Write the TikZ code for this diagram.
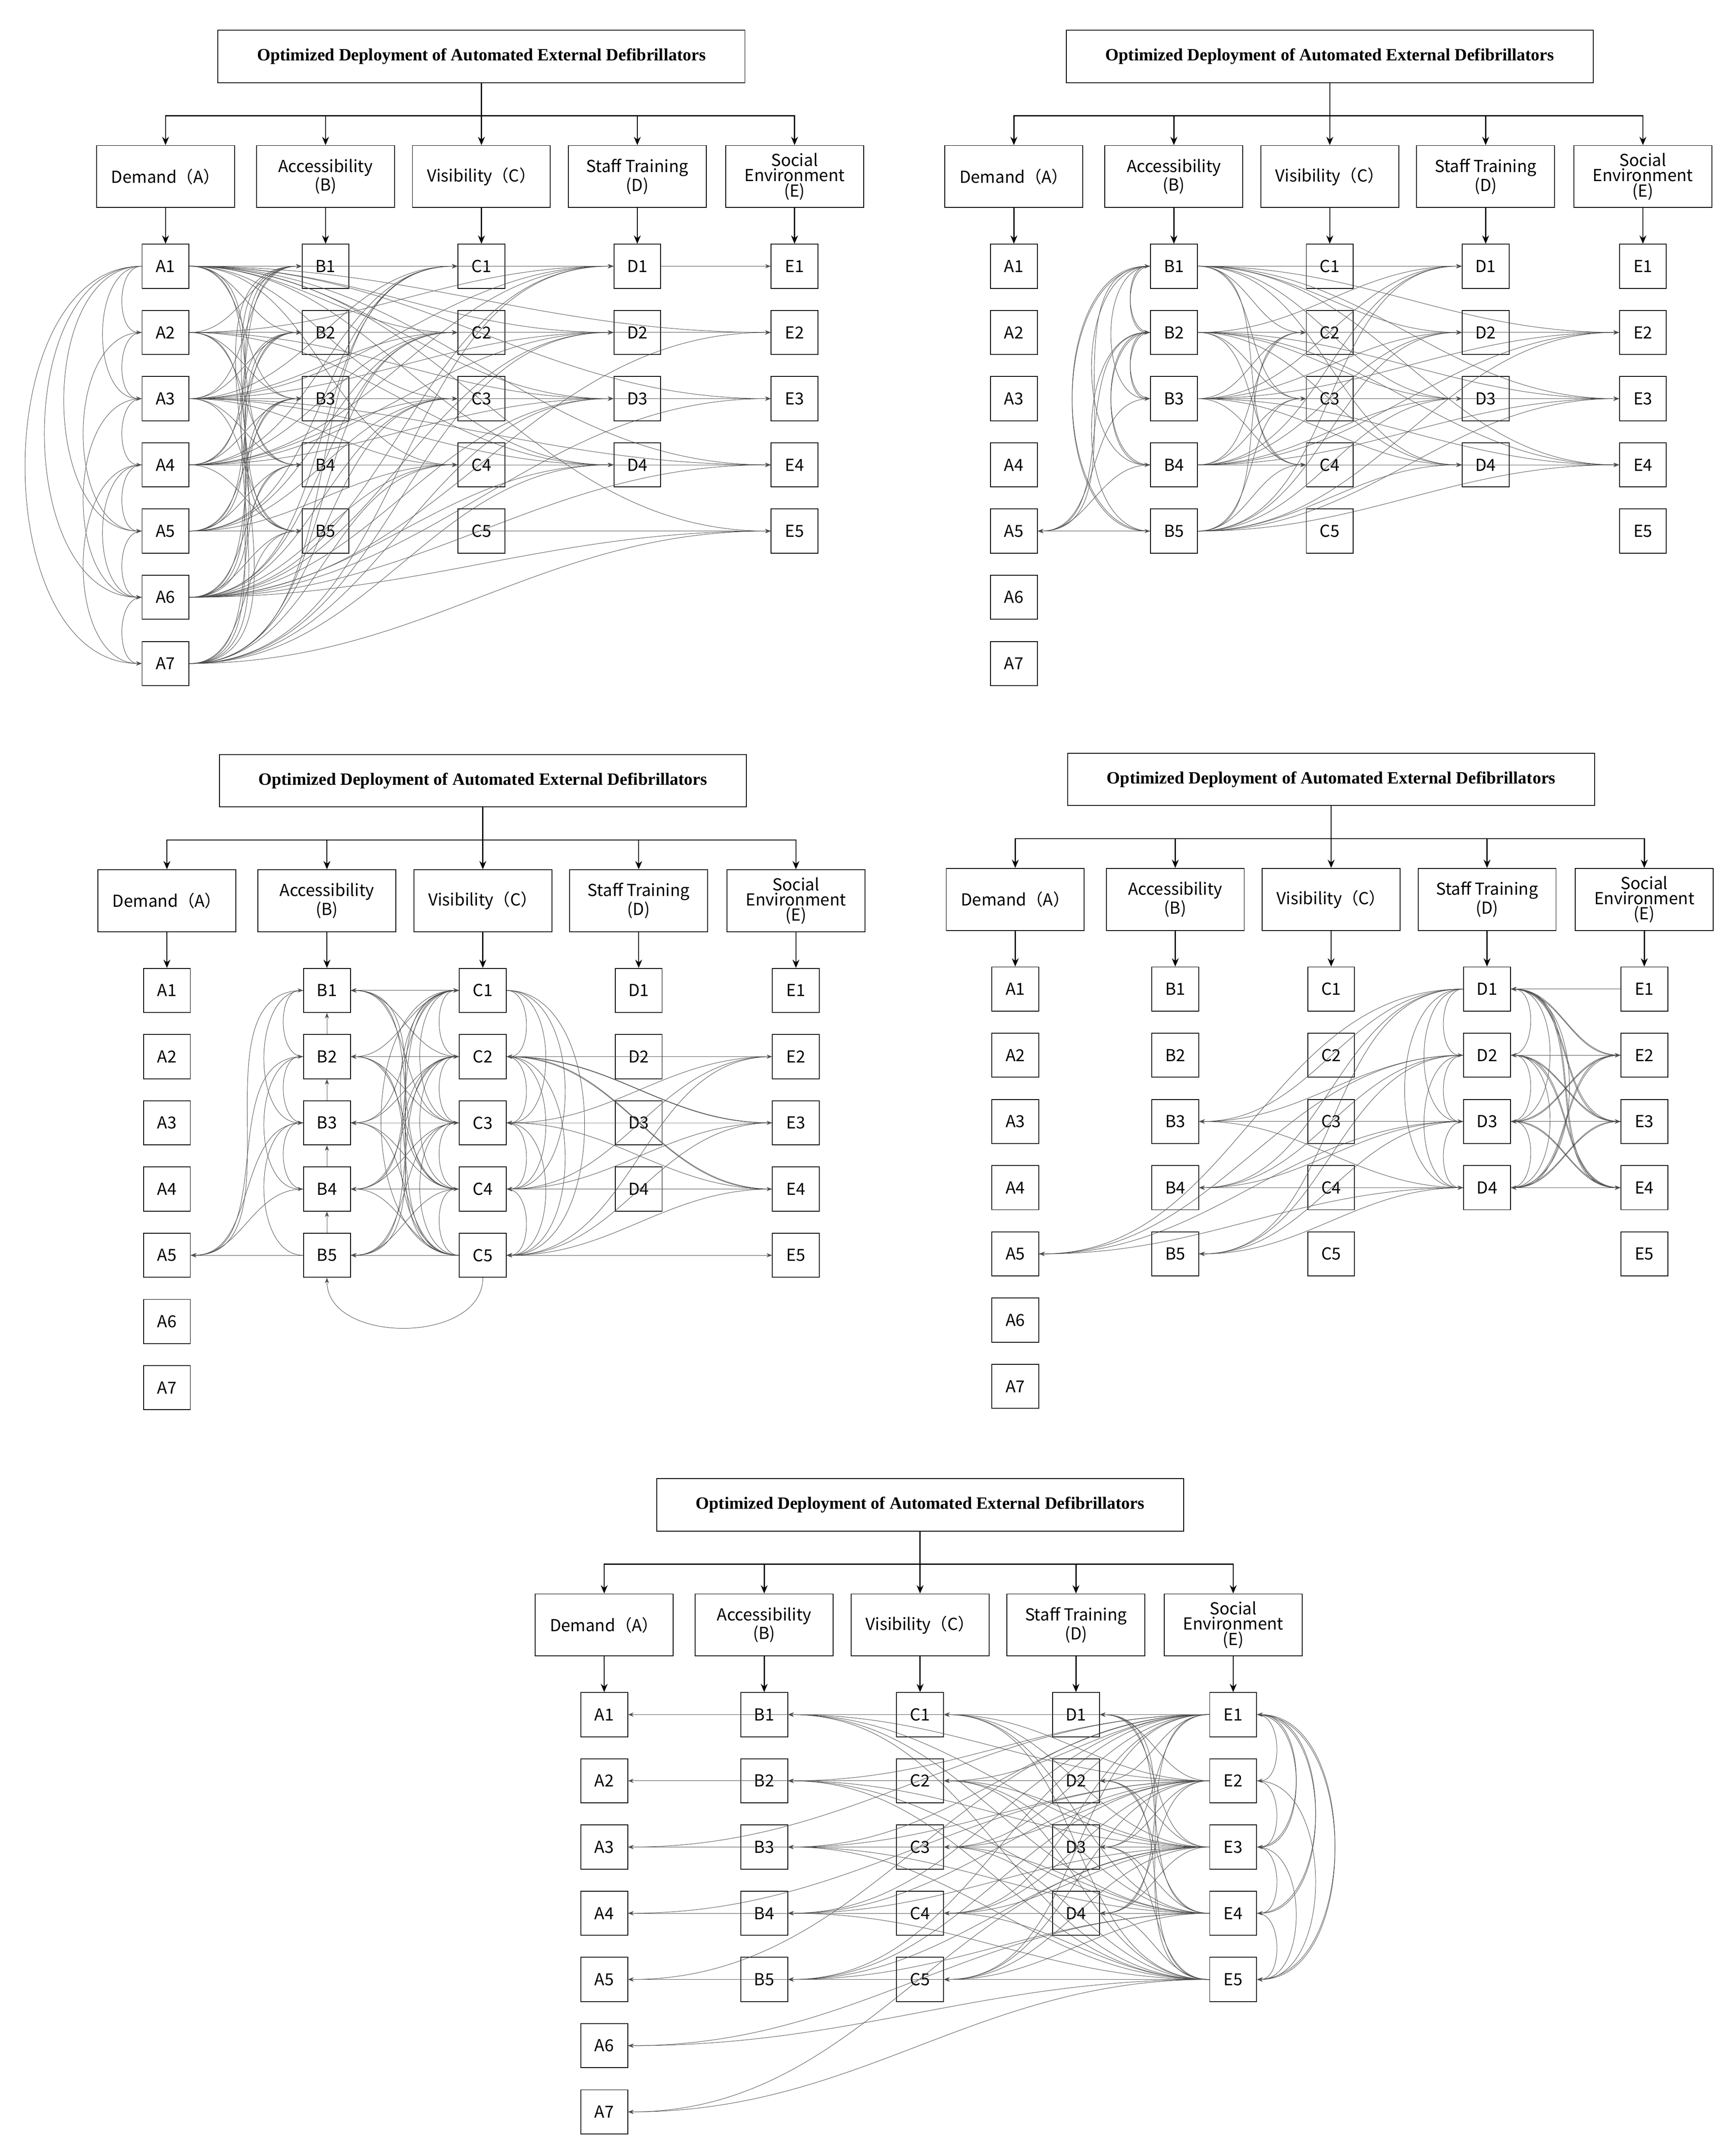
\documentclass[tikz,border=0pt]{standalone}
\usepackage{fontspec}
\setmainfont{Liberation Serif}
\newfontfamily\cjk{Noto Sans CJK SC}
\usetikzlibrary{arrows.meta}
\tikzset{
 box/.style={draw,line width=0.6pt,inner sep=1pt},
 ttl/.style={box,minimum width=382pt,minimum height=38pt,font=\bfseries\fontsize{12.5}{14}\selectfont},
 cat/.style={box,minimum width=100pt,minimum height=45pt,align=center,font=\cjk\fontsize{12}{11}\selectfont},
 leaf/.style={box,minimum width=34pt,minimum height=32pt,font=\cjk\fontsize{12}{12}\selectfont},
 tr/.style={line width=0.8pt,-{Stealth[length=6pt,width=5pt]}},
 ed/.style={draw=black!70,line width=0.3pt,-{Stealth[length=4pt,width=3pt]}},
}
\newcommand\panel[3]{%
\begin{scope}[shift={(#2,#3)}]
\node[ttl] (#1T) at (349,41) {Optimized Deployment of Automated External Defibrillators};
\node[cat] (#1a) at (120,128) {Demand（A）};
\node[cat] (#1b) at (236,128) {Accessibility\\(B)};
\node[cat] (#1c) at (349,128) {Visibility（C）};
\node[cat] (#1d) at (462,128) {Staff Training\\(D)};
\node[cat] (#1e) at (576,128) {Social\\Environment\\(E)};
\foreach \k in {1,...,7} \node[leaf] (#1A\k) at (120,193+48*\k-48) {A\k};
\foreach \k in {1,...,5} \node[leaf] (#1B\k) at (236,193+48*\k-48) {B\k};
\foreach \k in {1,...,5} \node[leaf] (#1C\k) at (349,193+48*\k-48) {C\k};
\foreach \k in {1,...,4} \node[leaf] (#1D\k) at (462,193+48*\k-48) {D\k};
\foreach \k in {1,...,5} \node[leaf] (#1E\k) at (576,193+48*\k-48) {E\k};
\coordinate (#1h) at (349,84);
\draw[line width=0.8pt] (#1T.south) -- (#1h);
\foreach \c in {a,b,c,d,e} {\draw[tr] (#1h) -| (#1\c.north); \draw[tr] (#1\c.south) -- (#1\c.south|-#1A1.north);}
\end{scope}}
\begin{document}
\begin{tikzpicture}[x=1pt,y=-1pt]
\useasboundingbox (0,0) rectangle (1254,1563);
\panel{a}{0}{0}
\panel{b}{615}{0}
\panel{c}{1}{525}
\panel{d}{616}{524}
\panel{e}{318}{1050}
% ---- panel 1
\foreach \s in {1,...,7} \foreach \t in {1,...,5} \draw[ed] (aA\s.east) to[out=0,in=180] (aB\t.west);
\foreach \s in {1,3,4,5,6,7} \foreach \t in {1,...,4} \draw[ed] (aA\s.east) to[out=0,in=180] (aC\t.west);
\foreach \s in {1,2,3,4,6,7} \foreach \t in {1,...,4} \draw[ed] (aA\s.east) to[out=0,in=180] (aD\t.west);
\foreach \s/\t in {1/2,1/3,1/4,1/5,2/2,3/3,3/4,4/4,6/2,6/3,6/4,6/5,7/5,5/5} \draw[ed] (aA\s.east) to[out=0,in=180] (aE\t.west);
\draw[ed] (aD1.east) -- (aE1.west);
\foreach \s/\t in {1/2,1/3,1/5,1/6,1/7,2/3,3/4,3/6,4/5,4/6,4/7,5/6,6/7,2/5} \draw[ed] (aA\s.west) to[out=180,in=180] (aA\t.west);
% ---- panel 2
\foreach \s in {1,...,5} {
 \foreach \t in {2,3,4} \draw[ed] (bB\s.east) to[out=0,in=180] (bC\t.west);
 \foreach \t in {1,...,4} \draw[ed] (bB\s.east) to[out=0,in=180] (bD\t.west);
 \foreach \t in {2,3,4} \draw[ed] (bB\s.east) to[out=0,in=180] (bE\t.west);
 \draw[ed] (bB\s.west) to[out=180,in=0] (bA5.east);}
\foreach \s/\t in {1/2,1/3,1/4,1/5,2/1,2/3,2/4,3/2,4/2,5/1,5/2} \draw[ed] (bB\s.west) to[out=180,in=180] (bB\t.west);
% ---- panel 3
\foreach \s in {1,...,5} \foreach \t in {1,...,5} \draw[ed] (cC\s.west) to[out=180,in=0] (cB\t.east);
\foreach \s in {1,2,3,4} \draw[ed] (cB\s.west) to[out=180,in=0] (cA5.east);
\draw[ed] (cB5.west) -- (cA5.east);
\foreach \s/\t in {2/1,3/2,4/3,1/3,2/4,5/3} \draw[ed] (cB\s.west) to[out=180,in=180] (cB\t.west);
\foreach \s/\t in {5/4,4/3,3/2,2/1} \draw[ed] (cB\s.north) -- (cB\t.south);
\foreach \s/\t in {1/2,1/3,1/4,1/5,2/3,2/4,2/5,3/4,3/5,4/5} {\draw[ed] (cC\s.east) to[out=0,in=0] (cC\t.east); \draw[ed] (cC\t.west) to[out=180,in=180] (cC\s.west);}
\foreach \s in {2,3,4} \foreach \t in {2,3,4,5} \draw[ed] (cE\s.west) to[out=180,in=0] (cC\t.east);
\foreach \t in {2,3,4} \draw[ed] (cC2.east) to[out=0,in=180] (cE\t.west);
\draw[ed] (cC5.east) -- (cE5.west);
\draw[ed] (cC5.south) to[out=-90,in=-90,looseness=1.1] (cB5.south);
% ---- panel 4
\foreach \s in {1,...,4} {
 \foreach \t in {3,4,5} \draw[ed] (dD\s.west) to[out=180,in=0] (dB\t.east);
 \draw[ed] (dD\s.west) to[out=180,in=0] (dA5.east);
 \foreach \t in {2,3,4} \draw[ed] (dE\t.west) to[out=180,in=0] (dD\s.east);
 \foreach \t in {2,3,4} \draw[ed] (dD\s.east) to[out=0,in=180] (dE\t.west);}
\foreach \s/\t in {1/2,1/3,1/4,2/3,2/4,3/4} {\draw[ed] (dD\s.west) to[out=180,in=180] (dD\t.west); \draw[ed] (dD\t.east) to[out=0,in=0] (dD\s.east);}
\draw[ed] (dE1.west) to[out=180,in=0] (dD1.east);
% ---- panel 5
\foreach \s in {1,...,5} {
 \foreach \t in {1,...,4} \draw[ed] (eE\s.west) to[out=180,in=0] (eD\t.east);
 \foreach \t in {1,...,5} \draw[ed] (eE\s.west) to[out=180,in=0] (eC\t.east);
 \foreach \t in {1,...,5} \draw[ed] (eE\s.west) to[out=180,in=0] (eB\t.east);}
\foreach \s/\t in {1/1,2/2,3/3,4/4,5/5,5/6,5/7,1/3,2/4,4/6,3/7,1/5} \draw[ed] (eE\s.west) to[out=180,in=0] (eA\t.east);
\foreach \s/\t in {1/2,1/3,1/4,1/5,2/3,2/5,3/4,3/5,4/5,5/1,4/1,3/1} \draw[ed] (eE\s.east) to[out=0,in=0] (eE\t.east);
\end{tikzpicture}
\end{document}
